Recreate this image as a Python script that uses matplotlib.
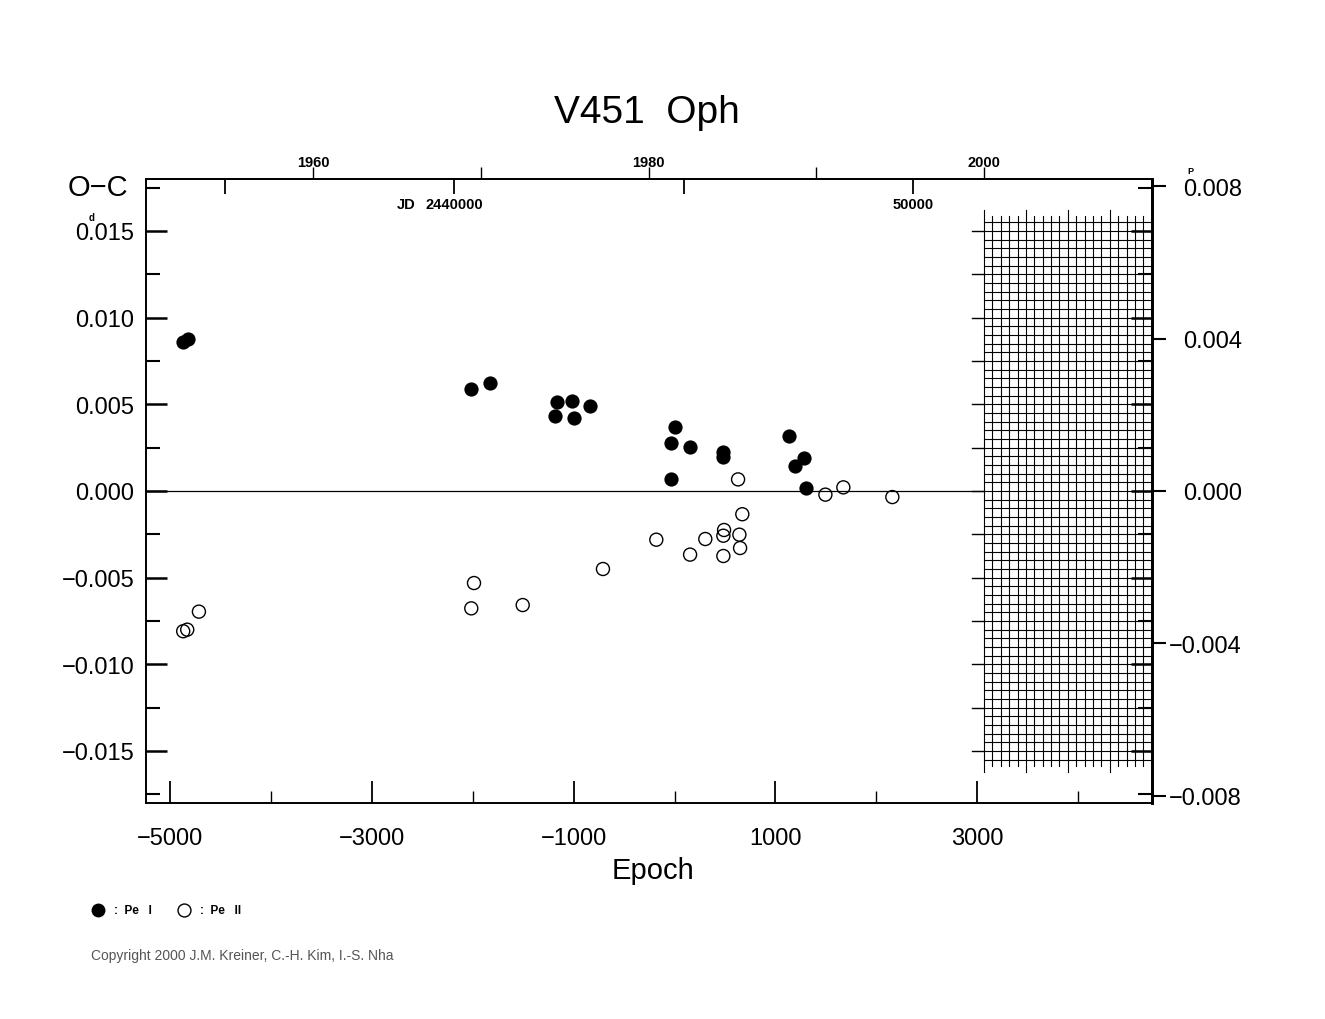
import numpy as np
import matplotlib
matplotlib.use("Agg")
import matplotlib.pyplot as plt
from matplotlib.lines import Line2D

plt.rcParams['font.family'] = ['Liberation Sans', 'DejaVu Sans']

# ---------------- data ----------------
title = "V451  Oph"
pe1_epoch = [-4874, -4825, -2018, -1830, -1162, -1020, -841, -1182, -1000, 2,
             -38, 157, 478, 484, -32, 1133, 1287, 1192, 1307]
pe1_oc = [0.00860, 0.00877, 0.00588, 0.00623, 0.00512, 0.00521, 0.00492, 0.00434,
          0.00423, 0.00367, 0.00277, 0.00252, 0.00227, 0.00198, 0.00069, 0.00317,
          0.00190, 0.00142, 0.00017]
pe2_epoch = [-4872.5, -4832.5, -4716.5, -2015.5, -1988.5, -1505.5, -709.5, -180.5,
             154.5, 305.5, 491.5, 484.5, 484.5, 630.5, 672.5, 643.5, 650.5, 1496.5,
             1674.5, 2160.5]
pe2_oc = [-0.00809, -0.00800, -0.00696, -0.00677, -0.00531, -0.00658, -0.00450,
          -0.00281, -0.00367, -0.00277, -0.00225, -0.00258, -0.00375, 0.00067,
          -0.00134, -0.00252, -0.00329, -0.00021, 0.00021, -0.00035]

x_major = [-5000, -3000, -1000, 1000, 3000]
x_minor = [-4000, -2000, 0, 2000, 4000]
y_major = [-0.015, -0.010, -0.005, 0.0, 0.005, 0.010, 0.015]
y_minor = [-0.0175, -0.0125, -0.0075, -0.0025, 0.0025, 0.0075, 0.0125, 0.0175]
phase_ticks = [-0.008, -0.004, 0.0, 0.004, 0.008]
year_major = [1960, 1980, 2000]
year_minor = [1970, 1990]
jd_ticks = [2435000, 2440000, 2445000, 2450000]

# ephemeris
P = 2.19659
T0 = 2444801.6


def yr2jd(y):
    return 2451544.5 + (np.asarray(y) - 2000.0) * 365.25


def jd2ep(j):
    return (np.asarray(j) - T0) / P


def ep2jd(e):
    return T0 + np.asarray(e) * P


def yr2ep(y):
    return jd2ep(yr2jd(y))


def ep2yr(e):
    return 2000.0 + (ep2jd(e) - 2451544.5) / 365.25


W, H = 1325, 1020
fig = plt.figure(figsize=(W / 100, H / 100), dpi=100)
ax = fig.add_axes([145.7 / W, 1 - 804 / H, (1151.7 - 145.7) / W, (804 - 180) / H])

ax.set_xlim(yr2ep(1950.0), yr2ep(2010.0))
ax.set_ylim(-0.018, 0.018)

# zero line
ax.plot([yr2ep(1950.0), yr2ep(2000.0)], [0, 0], color='black', lw=0.9, zorder=2)

# future grid region (2000-2010)
gx0, gx1 = yr2ep(2000.0), yr2ep(2010.0)
for yv in np.arange(-0.0155, 0.01551, 0.0005):
    ax.plot([gx0, gx1], [yv, yv], color='black', lw=0.8, zorder=2)
for k, yr in enumerate(np.arange(2000.0, 2010.01, 0.5)):
    ext = 0.00072 if k % 5 == 0 else 0.00036
    ax.plot([yr2ep(yr)] * 2, [-0.0155 - ext, 0.0155 + ext], color='black', lw=0.8, zorder=2)
# tick marks at left edge of the grid
for yv in np.arange(-0.015, 0.01501, 0.0025):
    ax.plot([yr2ep(1999.28), gx0], [yv, yv], color='black', lw=1.0, zorder=2)

# data
ax.scatter(pe1_epoch, pe1_oc, s=105, c='black', linewidths=0, zorder=3)
ax.scatter(pe2_epoch, pe2_oc, s=88, facecolors='none', edgecolors='black', linewidths=1.0, zorder=3)

# axes styling
for side in ['left', 'bottom', 'top']:
    ax.spines[side].set_linewidth(1.4)
ax.spines['right'].set_linewidth(2.0)

ax.set_xticks(x_major)
ax.set_xticks(x_minor, minor=True)
ax.set_xticklabels([f"{v:d}".replace('-', '\u2212') for v in x_major])
ax.set_yticks(y_major)
ax.set_yticks(y_minor, minor=True)
ax.set_yticklabels([f"{v:.3f}".replace('-', '\u2212') if abs(v) > 1e-9 else "0.000" for v in y_major])
ax.tick_params(axis='x', which='major', direction='in', length=16, width=1.3,
               labelsize=17, pad=17, top=False)
ax.tick_params(axis='x', which='minor', direction='in', length=9, width=1.0, top=False)
ax.tick_params(axis='y', which='major', direction='in', length=15, width=1.8,
               labelsize=17, pad=8, right=True)
ax.tick_params(axis='y', which='minor', direction='in', length=10, width=1.5, right=True)

# top axis: years (outside)
secx = ax.secondary_xaxis('top', functions=(ep2yr, lambda y: yr2ep(y)))
secx.set_xticks(year_major)
secx.set_xticks(year_minor, minor=True)
secx.set_xticklabels([str(y) for y in year_major])
secx.tick_params(which='both', direction='out', length=9, width=1.0, labelsize=10.5, pad=-2)
plt.setp(secx.get_xticklabels(), fontweight='bold')
secx.spines['top'].set_linewidth(1.4)

# top axis: JD ticks (inside)
secj = ax.secondary_xaxis('top', functions=(ep2jd, lambda j: jd2ep(j)))
secj.set_xticks(jd_ticks)
secj.tick_params(direction='in', length=11, width=1.3, labeltop=False)
secj.spines['top'].set_visible(False)

bt = ax.get_xaxis_transform()
ax.text(jd2ep(2440000), 1 - 25 / 624, "2440000", transform=bt, ha='center', va='center',
        fontsize=10.5, fontweight='bold')
ax.annotate("JD", xy=(jd2ep(2440000), 1 - 25 / 624), xycoords=bt, xytext=(-28, 0),
            textcoords='offset points', ha='right', va='center', fontsize=10.5, fontweight='bold')
ax.text(jd2ep(2450000), 1 - 25 / 624, "50000", transform=bt, ha='center', va='center',
        fontsize=10.5, fontweight='bold')

# right axis: phase units
secy = ax.secondary_yaxis('right', functions=(lambda d: np.asarray(d) / P, lambda p: np.asarray(p) * P))
secy.set_yticks(phase_ticks)
secy.set_yticklabels([f"{v:.3f}".replace('-', '\u2212') if abs(v) > 1e-9 else "0.000" for v in phase_ticks])
secy.tick_params(direction='out', length=10, width=1.5, labelsize=17, pad=55)
plt.setp(secy.get_yticklabels(), ha='right')
secy.spines['right'].set_linewidth(2.0)

# texts
fig.text(647 / W, 1 - 113 / H, title, ha='center', va='center', fontsize=28)
fig.text(98 / W, 1 - 188 / H, "O\u2212C", ha='center', va='center', fontsize=21)
fig.text(92 / W, 1 - 218 / H, "d", ha='center', va='center', fontsize=7, fontweight='bold')
fig.text(1190 / W, 1 - 172 / H, "P", ha='center', va='center', fontsize=6.5, fontweight='bold')
fig.text(653 / W, 1 - 871 / H, "Epoch", ha='center', va='center', fontsize=21)

# legend
fig.add_artist(Line2D([98.3 / W], [1 - 911 / H], transform=fig.transFigure, marker='o',
                      markersize=10, color='black', markeredgewidth=0, linestyle='none'))
fig.add_artist(Line2D([184 / W], [1 - 910.5 / H], transform=fig.transFigure, marker='o',
                      markersize=9.3, markerfacecolor='none', markeredgecolor='black',
                      markeredgewidth=1.0, linestyle='none'))
fig.text(114 / W, 1 - 911 / H, ":  Pe   I", ha='left', va='center', fontsize=8.5, fontweight='bold')
fig.text(200 / W, 1 - 911 / H, ":  Pe   II", ha='left', va='center', fontsize=8.5, fontweight='bold')
fig.text(91 / W, 1 - 956 / H, "Copyright 2000 J.M. Kreiner, C.-H. Kim, I.-S. Nha",
         ha='left', va='center', fontsize=10, color='#555555')

fig.savefig("out.png", dpi=100)
